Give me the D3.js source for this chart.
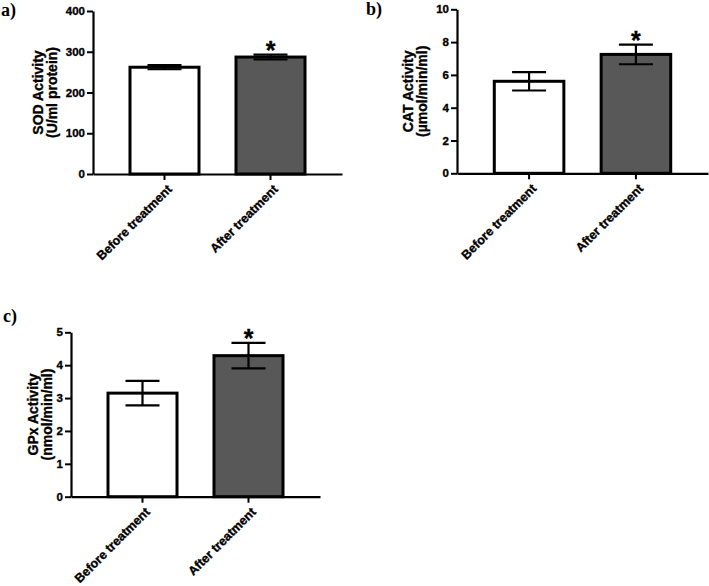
<!DOCTYPE html>
<html>
<head>
<meta charset="utf-8">
<script src="https://cdn.jsdelivr.net/npm/d3@7"></script>
<style>
  html, body { margin: 0; padding: 0; background: #fff; }
  svg { display: block; }
</style>
</head>
<body>
<svg id="chart" width="709" height="586"></svg>
<script>
// ---- data ----
const categories = ["Before treatment", "After treatment"];
const significant = [false, true];

const sodMeans = [262, 287];
const sodErrors = [5, 6];
const sodTicks = [0, 100, 200, 300, 400];

const catMeans = [5.61, 7.25];
const catErrors = [0.56, 0.6];
const catTicks = [0, 2, 4, 6, 8, 10];

const gpxMeans = [3.15, 4.29];
const gpxErrors = [0.37, 0.39];
const gpxTicks = [0, 1, 2, 3, 4, 5];

const panelLetters = ["a)", "b)", "c)"];
const titleLine1 = ["SOD Activity", "CAT Activity", "GPx Activity"];
const titleLine2 = ["(U/ml protein)", "(µmol/min/ml)", "(nmol/min/ml)"];

// ---- layout ----
const SANS = "'Liberation Sans', Arial, Helvetica, sans-serif";
const SERIF = "'Liberation Serif', 'Times New Roman', serif";
const panels = [
  { means: sodMeans, errors: sodErrors, ticks: sodTicks, x0: 93, x1: 342, yTop: 11, yBot: 174, lx: 1, ly: 16, t1: 43, t2: 57 },
  { means: catMeans, errors: catErrors, ticks: catTicks, x0: 457, x1: 708, yTop: 9.3, yBot: 173.3, lx: 366, ly: 15, t1: 413, t2: 427 },
  { means: gpxMeans, errors: gpxErrors, ticks: gpxTicks, x0: 71, x1: 320, yTop: 332.3, yBot: 496.7, lx: 3, ly: 322, t1: 38, t2: 52 }
];
const fills = ["#ffffff", "#585858"];

const svg = d3.select("#chart");

function heavy(sel, size) {
  return sel.attr("font-family", SANS).attr("font-size", size).attr("font-weight", "bold")
    .attr("fill", "#000").attr("stroke", "#000").attr("stroke-width", 0.35);
}

panels.forEach((p, i) => {
  const g = svg.append("g");
  const x = d3.scaleBand().domain(categories).range([p.x0, p.x1]).paddingInner(0.349).paddingOuter(0.349);
  const y = d3.scaleLinear().domain([0, d3.max(p.ticks)]).range([p.yBot, p.yTop]);

  // bars
  g.selectAll("rect.bar").data(categories).join("rect")
    .attr("class", "bar")
    .attr("x", d => x(d))
    .attr("width", x.bandwidth())
    .attr("y", (d, j) => y(p.means[j]))
    .attr("height", (d, j) => y(0) - y(p.means[j]))
    .attr("fill", (d, j) => fills[j])
    .attr("stroke", "#000")
    .attr("stroke-width", 3);

  // error bars
  const capW = 34;
  categories.forEach((c, j) => {
    const cx = x(c) + x.bandwidth() / 2;
    const hi = y(p.means[j] + p.errors[j]);
    const lo = y(p.means[j] - p.errors[j]);
    g.append("line").attr("x1", cx).attr("x2", cx).attr("y1", hi).attr("y2", lo)
      .attr("stroke", "#000").attr("stroke-width", 2.2);
    [hi, lo].forEach(yy => {
      g.append("line").attr("x1", cx - capW / 2).attr("x2", cx + capW / 2).attr("y1", yy).attr("y2", yy)
        .attr("stroke", "#000").attr("stroke-width", 2.2);
    });
    if (significant[j]) {
      heavy(g.append("text"), 25).attr("x", cx).attr("y", hi + 4)
        .attr("text-anchor", "middle")
        .text("*");
    }
  });

  // y axis
  const yAxis = d3.axisLeft(y).tickValues(p.ticks).tickFormat(d3.format("d"))
    .tickSize(6).tickPadding(2).tickSizeOuter(0);
  const ya = g.append("g").attr("transform", `translate(${p.x0},0)`).call(yAxis);
  ya.select(".domain").attr("stroke", "#000").attr("stroke-width", 2.2);
  ya.selectAll(".tick line").attr("stroke", "#000").attr("stroke-width", 2);
  heavy(ya.selectAll(".tick text"), 11.5);

  // x axis
  const xAxis = d3.axisBottom(x).tickSize(6).tickSizeOuter(0).tickPadding(3);
  const xa = g.append("g").attr("transform", `translate(0,${p.yBot})`).call(xAxis);
  xa.select(".domain").attr("stroke", "#000").attr("stroke-width", 2.2);
  xa.selectAll(".tick line").attr("stroke", "#000").attr("stroke-width", 2);
  heavy(xa.selectAll(".tick text"), 12.5)
    .attr("text-anchor", "end")
    .attr("dy", "0.35em")
    .attr("transform", "translate(5,13) rotate(-45)")
    .attr("x", 0).attr("y", 0);

  // y title
  const cy = (p.yTop + p.yBot) / 2;
  [[titleLine1[i], p.t1], [titleLine2[i], p.t2]].forEach(([txt, bx]) => {
    heavy(g.append("text"), 14)
      .attr("transform", `translate(${bx},${cy}) rotate(-90)`)
      .attr("text-anchor", "middle")
      .text(txt);
  });

  // panel letter
  g.append("text").attr("x", p.lx).attr("y", p.ly)
    .attr("font-family", SERIF)
    .attr("font-size", 18).attr("font-weight", "bold").attr("fill", "#000")
    .text(panelLetters[i]);
});
</script>
</body>
</html>
